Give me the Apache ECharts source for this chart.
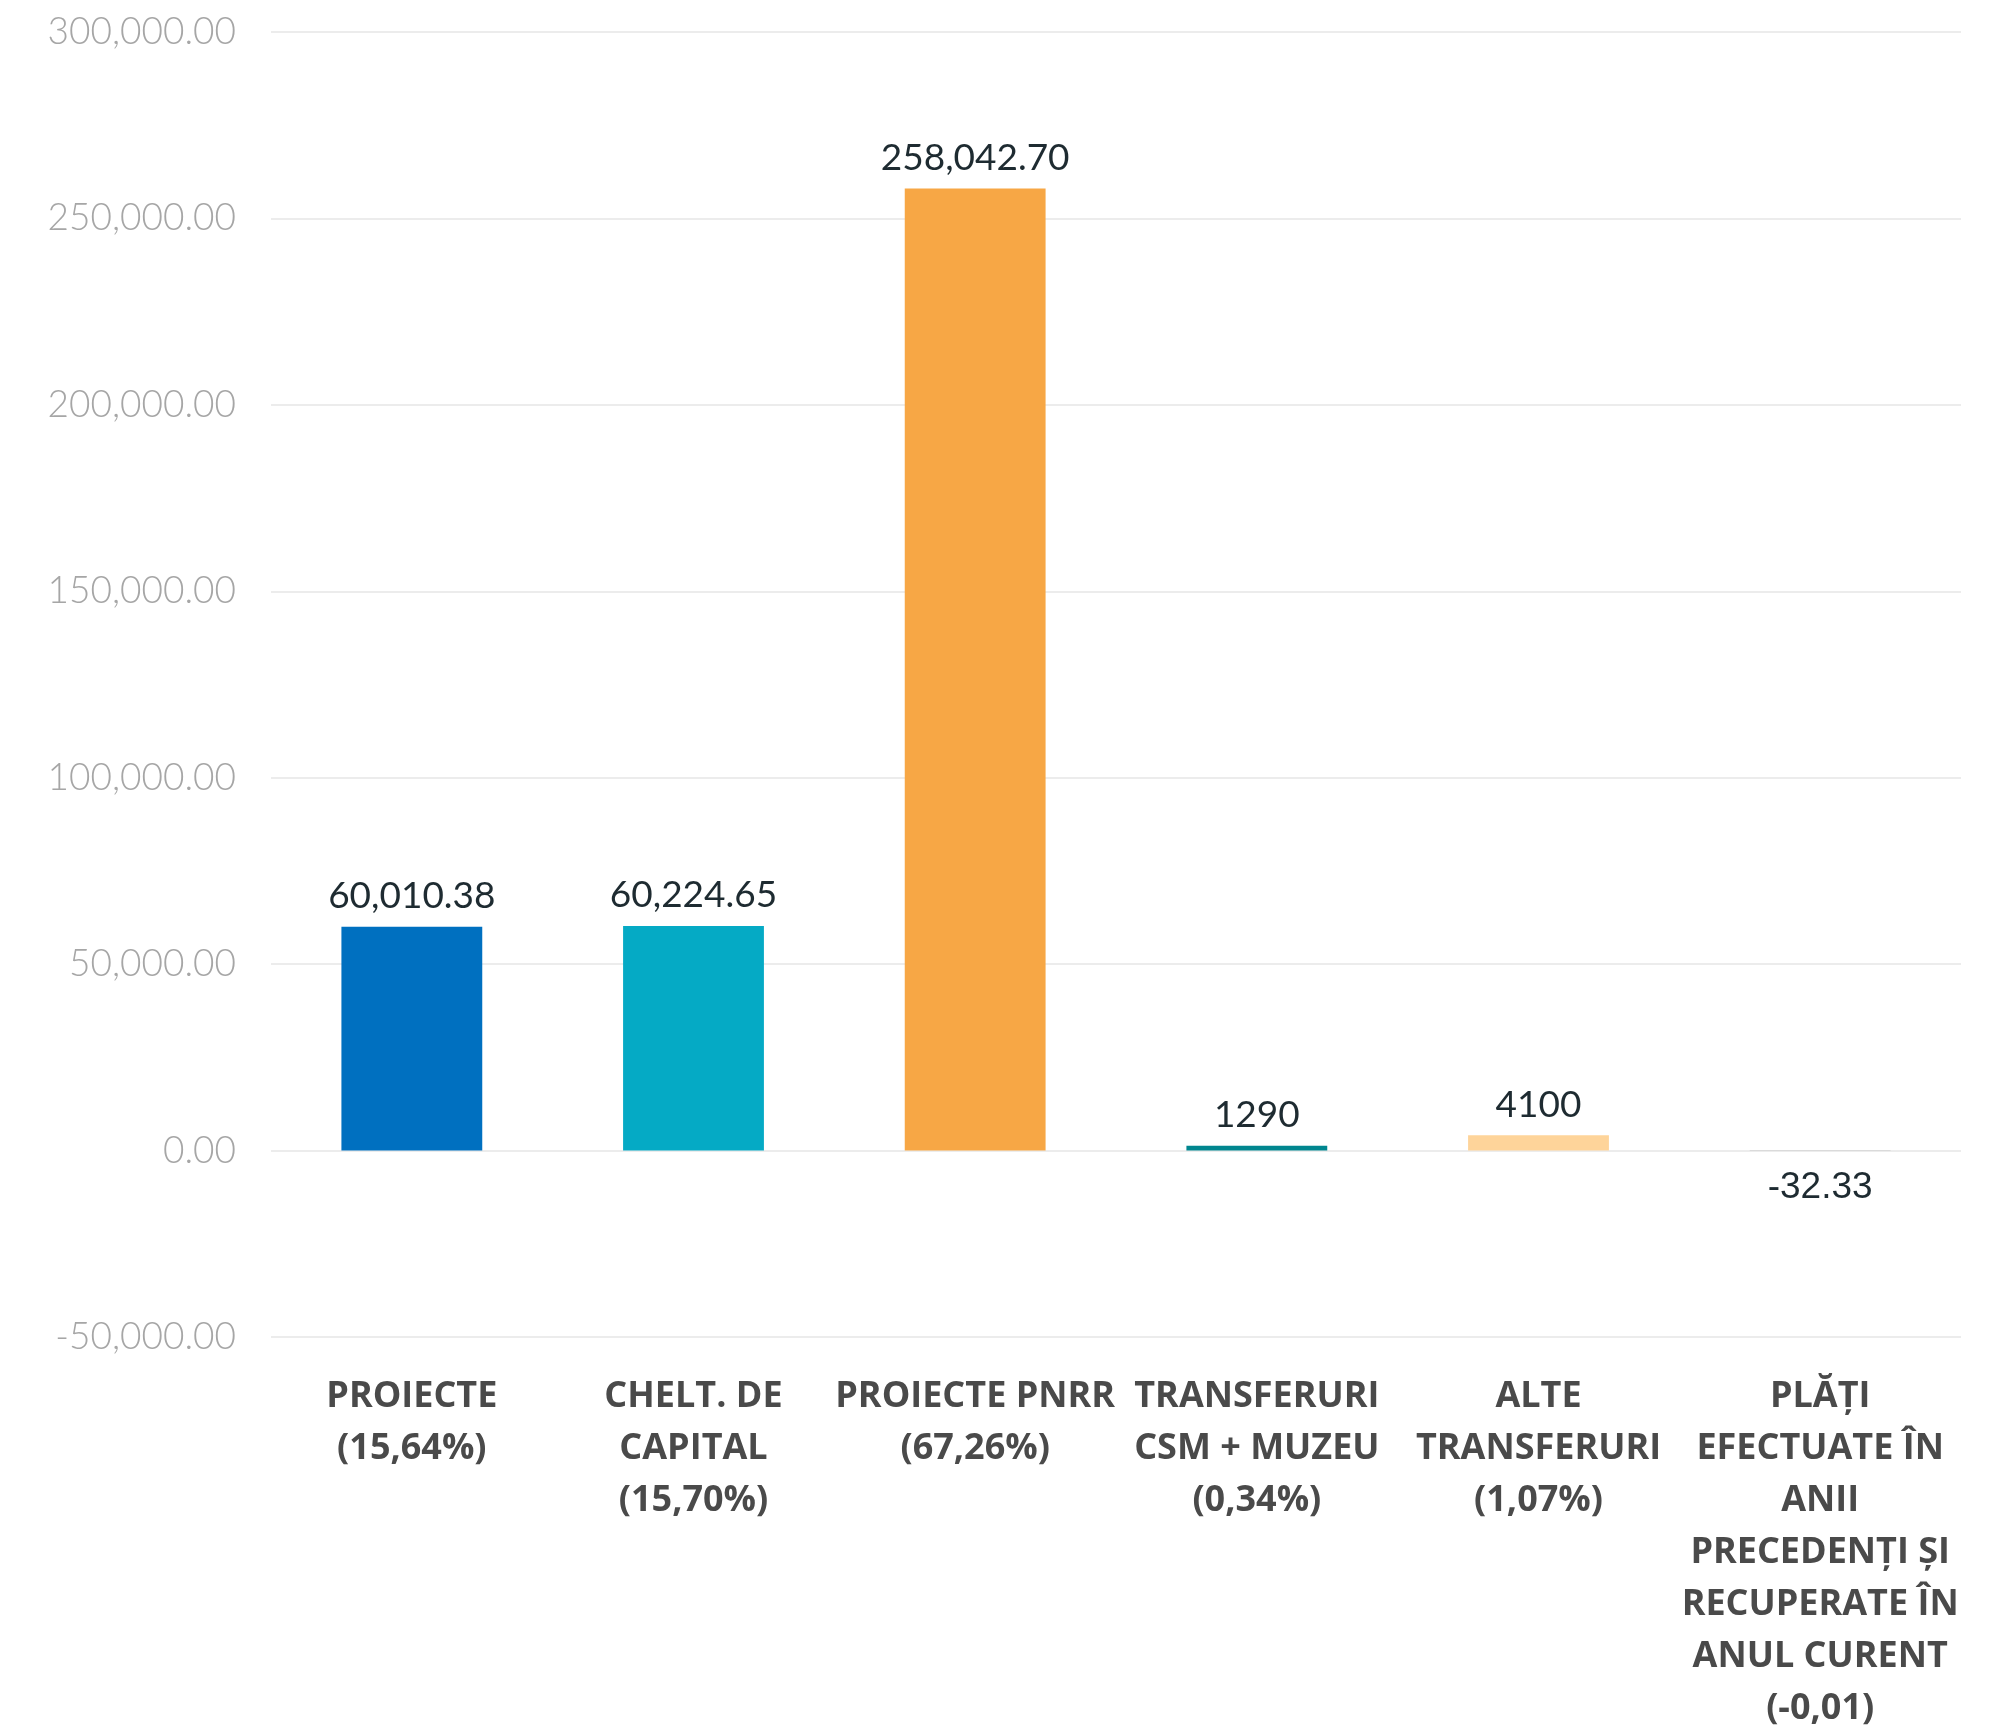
<!DOCTYPE html>
<html>
<head>
<meta charset="utf-8">
<script src="https://cdn.jsdelivr.net/npm/echarts@6/dist/echarts.min.js"></script>
<style>html,body{margin:0;padding:0;background:#fff}#c{width:1999px;height:1728px}</style>
</head>
<body>
<div id="c"></div>
<script>
const categories = [
  "PROIECTE\n(15,64%)",
  "CHELT. DE\nCAPITAL\n(15,70%)",
  "PROIECTE PNRR\n(67,26%)",
  "TRANSFERURI\nCSM + MUZEU\n(0,34%)",
  "ALTE\nTRANSFERURI\n(1,07%)",
  "PLĂȚI\nEFECTUATE ÎN\nANII\nPRECEDENȚI ȘI\nRECUPERATE ÎN\nANUL CURENT\n(-0,01)"
];
const values = [60010.38, 60224.65, 258042.70, 1290, 4100, -32.33];
const valueLabels = ["60,010.38", "60,224.65", "258,042.70", "1290", "4100", "-32.33"];
const barColors = ["#0070c0", "#05aac5", "#f7a745", "#00868f", "#fed49a", "#a5a5a5"];
const yTicks = { min: -50000, max: 300000, interval: 50000 };

const chart = echarts.init(document.getElementById('c'));
const fmt = v => v.toLocaleString('en-US', {minimumFractionDigits: 2, maximumFractionDigits: 2});
chart.setOption({
  animation: false,
  grid: { left: 271, right: 38, top: 32, bottom: 391, containLabel: false, outerBoundsMode: 'none' },
  xAxis: {
    type: 'category',
    data: categories,
    axisLine: { show: false },
    axisTick: { show: false },
    axisLabel: {
      interval: 0,
      margin: 34,
      fontFamily: 'Open Sans',
      fontWeight: 'bold',
      fontSize: 36,
      lineHeight: 52,
      color: '#4a4a4a',
      align: 'center'
    }
  },
  yAxis: {
    type: 'value',
    min: yTicks.min, max: yTicks.max, interval: yTicks.interval,
    axisLine: { show: false },
    axisTick: { show: false },
    splitLine: { lineStyle: { color: '#ececec', width: 2 } },
    axisLabel: {
      margin: 35,
      fontFamily: 'Lato',
      fontWeight: 300,
      fontSize: 37,
      color: '#a6a6a6',
      formatter: v => fmt(v)
    }
  },
  series: [{
    type: 'bar',
    barWidth: '50%',
    data: values.map((v, i) => ({
      value: v,
      itemStyle: { color: barColors[i] },
      label: i === 5 ? {
        position: 'bottom', distance: 19,
        fontFamily: 'Liberation Sans', fontSize: 37, color: '#1e2b31'
      } : {}
    })),
    label: {
      show: true,
      position: 'top',
      distance: 12,
      fontFamily: 'Lato',
      fontSize: 37,
      color: '#1e2b31',
      formatter: p => valueLabels[p.dataIndex]
    }
  }]
});
</script>
</body>
</html>
